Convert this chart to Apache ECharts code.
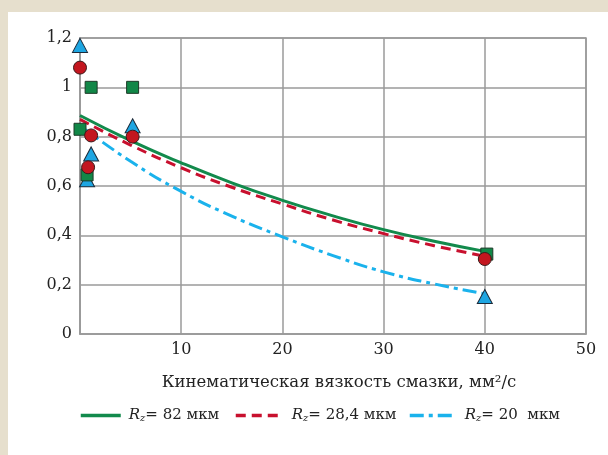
<!DOCTYPE html>
<html>
<head>
<meta charset="utf-8">
<script src="https://cdn.jsdelivr.net/npm/echarts@6/dist/echarts.min.js"></script>
<style>
    html, body { margin: 0; padding: 0; background: #e6dfcd; }
    #chart { position: absolute; left: 8px; top: 12px; width: 600px; height: 443px; background: #fff; }
</style>
</head>
<body>
<div id="chart"></div>
<script>
// аппроксимирующие кривые
var fitX = [0, 5, 10, 15, 20, 25, 30, 35, 40],
    fit82 = [0.886, 0.784, 0.694, 0.613, 0.542, 0.479, 0.423, 0.376, 0.335],
    fit28 = [0.870, 0.766, 0.674, 0.595, 0.527, 0.462, 0.407, 0.358, 0.315],
    fit20 = [0.845, 0.700, 0.578, 0.478, 0.394, 0.318, 0.252, 0.203, 0.163];
// экспериментальные точки
var sqX = [0, 1.1, 5.2, 0.7, 40.2],
    sqY = [0.83, 1.0, 1.0, 0.645, 0.324],
    ciX = [0, 1.1, 0.8, 5.2, 40],
    ciY = [1.08, 0.805, 0.676, 0.80, 0.304],
    trX = [0, 1.1, 0.7, 5.2, 40],
    trY = [1.17, 0.73, 0.625, 0.844, 0.152];
var names = ['Rz = 82 мкм', 'Rz = 28,4 мкм', 'Rz = 20 мкм'],
    legendText = ['= 82 мкм', '= 28,4 мкм', '= 20  мкм'];

var font = 'DejaVu Serif',
    gridColor = '#9a9a9a';

function pairs(xs, ys) {
    var out = [], i;
    for (i = 0; i < xs.length; i++) {
        out.push([xs[i], ys[i]]);
    }
    return out;
}

function legendFor(i, left, width) {
    return {
        data: [names[i]],
        left: left,
        top: 391,
        itemWidth: width,
        itemHeight: 12,
        itemStyle: { opacity: 0 },
        lineStyle: { width: 3.5 },
        formatter: function () {
            return '{i|R}{s|z}{t|' + legendText[i] + '}';
        },
        textStyle: {
            rich: {
                i: { fontFamily: font, fontStyle: 'italic', fontSize: 15, color: '#222', padding: [0, 0, 0, 3] },
                s: { fontFamily: font, fontStyle: 'italic', fontSize: 10, color: '#222', padding: [6, 0, 0, 0] },
                t: { fontFamily: font, fontSize: 15, color: '#222' }
            }
        }
    };
}

var chart = echarts.init(document.getElementById('chart'));
chart.setOption({
    animation: false,
    grid: { left: 72, right: 22, top: 26, bottom: 121 },
    legend: [legendFor(0, 66, 40), legendFor(1, 221, 48), legendFor(2, 395, 47)],
    xAxis: {
        type: 'value',
        min: 0,
        max: 50,
        interval: 10,
        name: 'Кинематическая вязкость смазки, мм²/с',
        nameLocation: 'middle',
        nameGap: 40,
        nameTextStyle: { fontFamily: font, fontSize: 16.5, color: '#222', padding: [0, 0, 0, 12] },
        axisLine: { lineStyle: { color: gridColor, width: 1.5 } },
        axisTick: { show: false },
        axisLabel: { showMinLabel: false, margin: 8, fontFamily: font, fontSize: 16, color: '#222' },
        splitLine: { lineStyle: { color: gridColor, width: 1.5 } }
    },
    yAxis: {
        type: 'value',
        min: 0,
        max: 1.2,
        interval: 0.2,
        axisLine: { show: true, lineStyle: { color: gridColor, width: 1.5 } },
        axisTick: { show: false },
        axisLabel: {
            margin: 8, fontFamily: font, fontSize: 16, color: '#222',
            formatter: function (v) { return String(+v.toFixed(1)).replace('.', ','); }
        },
        splitLine: { lineStyle: { color: gridColor, width: 1.5 } }
    },
    graphic: [{
        type: 'rect',
        shape: { x: 72, y: 26, width: 506, height: 296 },
        style: { fill: 'none', stroke: gridColor, lineWidth: 1.5 },
        silent: true
    }],
    series: [{
        name: names[0],
        type: 'line',
        smooth: true,
        symbol: 'none',
        z: 2,
        lineStyle: { color: '#128a4c', width: 3 },
        itemStyle: { color: '#128a4c' },
        data: pairs(fitX, fit82)
    }, {
        name: names[1],
        type: 'line',
        smooth: true,
        symbol: 'none',
        z: 2,
        lineStyle: { color: '#c8102e', width: 3, type: [10, 6] },
        itemStyle: { color: '#c8102e' },
        data: pairs(fitX, fit28)
    }, {
        name: names[2],
        type: 'line',
        smooth: true,
        symbol: 'none',
        z: 2,
        lineStyle: { color: '#1ab2ec', width: 3, type: [14, 5, 4, 5] },
        itemStyle: { color: '#1ab2ec' },
        data: pairs(fitX, fit20)
    }, {
        type: 'scatter',
        symbol: 'triangle',
        symbolSize: [15, 14],
        z: 3,
        itemStyle: { color: '#1ea6e2', borderColor: '#1c2b3a', borderWidth: 1, opacity: 1 },
        data: pairs(trX, trY)
    }, {
        type: 'scatter',
        symbol: 'rect',
        symbolSize: 12,
        z: 4,
        itemStyle: { color: '#118747', borderColor: '#1d3a28', borderWidth: 1, opacity: 1 },
        data: pairs(sqX, sqY)
    }, {
        type: 'scatter',
        symbol: 'circle',
        symbolSize: 13,
        z: 5,
        itemStyle: { color: '#c3161f', borderColor: '#3a1a1a', borderWidth: 1, opacity: 1 },
        data: pairs(ciX, ciY)
    }]
});
</script>
</body>
</html>
